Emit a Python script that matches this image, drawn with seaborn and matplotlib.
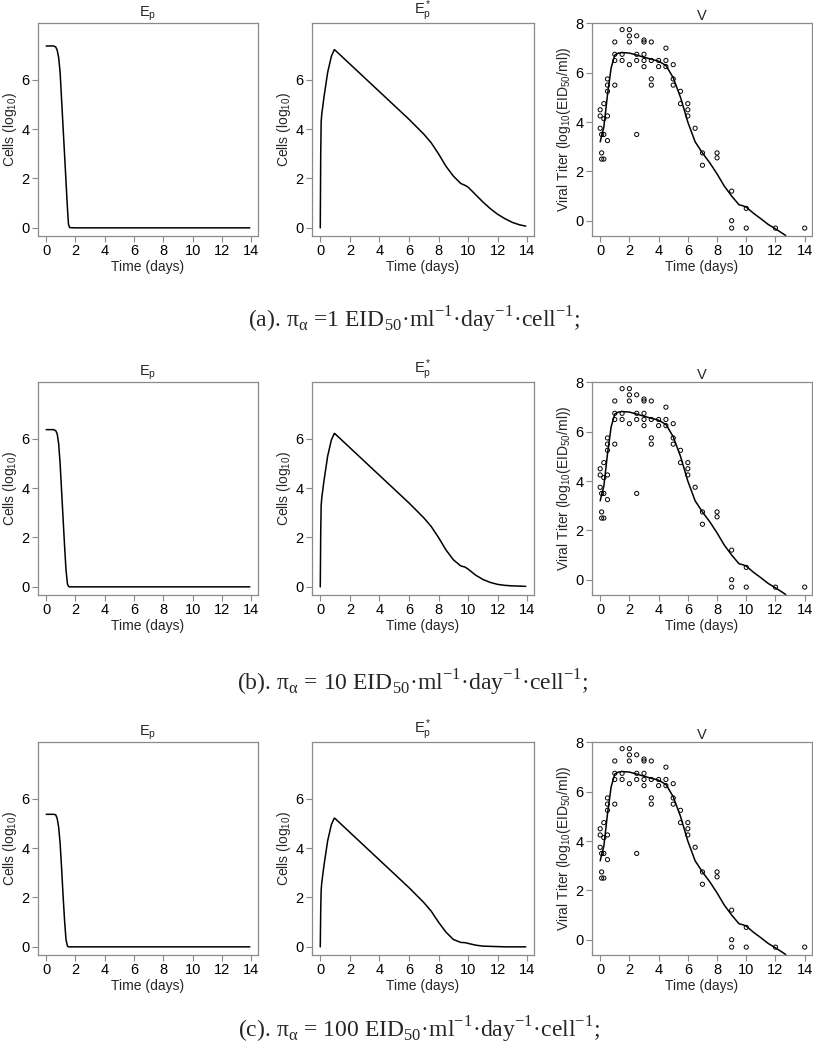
import numpy as np
import pandas as pd
import matplotlib
matplotlib.use('Agg')
import matplotlib.pyplot as plt
import seaborn as sns

# %%
# Model curves (log10 units)
t_ep = [0, 0.5, 0.65, 0.75, 0.85, 0.95, 1.05, 1.15, 1.25, 1.35, 1.45, 1.52, 1.6, 2.0, 13.9]
ep_a = [7.37, 7.37, 7.33, 7.2, 6.9, 6.3, 5.2, 4.1, 3.0, 1.9, 0.8, 0.15, 0.01, 0, 0]
ep_b = [6.37, 6.37, 6.33, 6.2, 5.8, 5.0, 3.9, 2.8, 1.7, 0.7, 0.12, 0.02, 0.0, 0, 0]
ep_c = [5.37, 5.37, 5.35, 5.2, 4.85, 4.2, 3.2, 2.1, 1.1, 0.3, 0.03, 0.0, 0.0, 0, 0]

t_eps = [0, 0.03, 0.06, 0.1, 0.25, 0.5, 0.75, 0.95, 1, 2, 3, 4, 5, 6, 7, 7.5, 8, 8.5, 9,
         9.5, 9.8, 10, 10.5, 11, 11.5, 12, 12.5, 13, 13.5, 13.9]
eps_a = [0, 3.0, 4.3, 4.6, 5.3, 6.3, 6.95, 7.22, 7.2, 6.64, 6.08, 5.52, 4.96, 4.4, 3.8, 3.45, 3.0,
         2.5, 2.1, 1.8, 1.72, 1.65, 1.35, 1.05, 0.78, 0.55, 0.37, 0.22, 0.12, 0.07]
eps_b = [0, 2.2, 3.3, 3.6, 4.3, 5.3, 5.95, 6.22, 6.2, 5.64, 5.08, 4.52, 3.96, 3.4, 2.8, 2.45, 2.0,
         1.5, 1.1, 0.85, 0.8, 0.72, 0.48, 0.3, 0.18, 0.1, 0.06, 0.04, 0.03, 0.02]
eps_c = [0, 1.5, 2.3, 2.6, 3.3, 4.3, 4.95, 5.22, 5.2, 4.64, 4.08, 3.52, 2.96, 2.4, 1.8, 1.45, 1.0,
         0.6, 0.3, 0.18, 0.17, 0.14, 0.07, 0.03, 0.02, 0.01, 0.0, 0.0, 0.0, 0.0]

t_v = [0, 0.25, 0.5, 0.75, 1.0, 1.25, 1.5, 2, 2.5, 3, 3.5, 4, 4.5, 5, 5.5, 5.75, 6, 6.5, 7,
       7.5, 8, 8.5, 9, 9.5, 9.8, 10, 10.5, 11, 11.5, 12, 12.5, 12.7]
v_fit = [3.2, 3.8, 5.1, 6.2, 6.72, 6.8, 6.82, 6.8, 6.72, 6.63, 6.55, 6.47, 6.3, 5.8, 5.0, 4.5,
         4.0, 3.2, 2.75, 2.35, 1.9, 1.4, 1.0, 0.65, 0.6, 0.55, 0.3, 0.08, -0.15, -0.33, -0.52, -0.6]

# observed viral titers (same in every row)
obs_t = [0, 0, 0, 0.1, 0.1, 0.1, 0.25, 0.25, 0.25, 0.25, 0.5, 0.5, 0.5, 0.5, 0.5,
         1, 1, 1, 1, 1.5, 1.5, 1.5, 2, 2, 2, 2, 2.5, 2.5, 2.5, 2.5,
         3, 3, 3, 3, 3, 3.5, 3.5, 3.5, 3.5, 4, 4, 4.5, 4.5, 4.5, 5, 5, 5,
         5.5, 5.5, 6, 6, 6, 6.5, 7, 7, 8, 8, 9, 9, 9, 10, 10, 12, 14]
obs_v = [4.5, 4.25, 3.75, 3.5, 2.75, 2.5, 2.5, 3.5, 4.14, 4.75, 5.75, 5.5, 5.25, 4.25, 3.25,
         7.25, 6.75, 6.5, 5.5, 7.75, 6.75, 6.5, 7.75, 7.5, 7.25, 6.33, 7.5, 6.75, 6.5, 3.5,
         7.33, 7.25, 6.75, 6.5, 6.25, 7.25, 6.5, 5.75, 5.5, 6.5, 6.25, 7.0, 6.5, 6.25, 6.33, 5.75, 5.5,
         5.25, 4.75, 4.75, 4.5, 4.25, 3.75, 2.75, 2.25, 2.75, 2.55, 1.2, 0.0, -0.3, 0.5, -0.3, -0.3, -0.3]

captions = [
    r"(a). π$_\mathregular{α}$ =1 EID$_\mathregular{50}$·ml$^\mathregular{-1}$·day$^\mathregular{-1}$·cell$^\mathregular{-1}$;",
    r"(b). π$_\mathregular{α}$ = 10 EID$_\mathregular{50}$·ml$^\mathregular{-1}$·day$^\mathregular{-1}$·cell$^\mathregular{-1}$;",
    r"(c). π$_\mathregular{α}$ = 100 EID$_\mathregular{50}$·ml$^\mathregular{-1}$·day$^\mathregular{-1}$·cell$^\mathregular{-1}$;",
]
ep_rows = [ep_a, ep_b, ep_c]
eps_rows = [eps_a, eps_b, eps_c]

# %%
sns.set_style('ticks')
plt.rcParams['font.family'] = ['Liberation Sans', 'DejaVu Sans']
plt.rcParams['mathtext.fontset'] = 'custom'
plt.rcParams['mathtext.rm'] = 'Liberation Sans'
plt.rcParams['axes.edgecolor'] = '#8a8a8a'
plt.rcParams['xtick.color'] = '#8a8a8a'
plt.rcParams['ytick.color'] = '#8a8a8a'
plt.rcParams['xtick.labelcolor'] = 'black'
plt.rcParams['ytick.labelcolor'] = 'black'

fig = plt.figure(figsize=(8.13, 10.5), dpi=100)
W, H = 813, 1050
col_x = [(38, 220), (312, 222), (592, 220)]
row_top = [23, 382, 742]
cap_y = [320, 683, 1030]
cap_x = [414, 413, 419]


def style(ax, ylim, yticks, ylabel, title):
    ax.set_xlim(-0.56, 14.46)
    ax.set_ylim(*ylim)
    ax.set_xticks(range(0, 15, 2))
    ax.set_yticks(yticks)
    ax.set_xlabel('Time (days)', fontsize=10, labelpad=1)
    ax.set_ylabel(ylabel, fontsize=10, labelpad=2)
    ax.set_title(title, fontsize=10.5, pad=2)
    ax.tick_params(labelsize=10.5, length=4, width=0.8, pad=2)
    for s in ax.spines.values():
        s.set_visible(True)
        s.set_linewidth(0.9)


for r in range(3):
    axes = []
    for c in range(3):
        x0, w = col_x[c]
        axes.append(fig.add_axes([x0 / W, 1 - (row_top[r] + 213) / H, w / W, 213 / H]))
    a1, a2, a3 = axes

    sns.lineplot(x=t_ep, y=ep_rows[r], ax=a1, color='black', lw=1.1, estimator=None)
    style(a1, (-0.33, 8.3), [0, 2, 4, 6], r'Cells (log$_\mathregular{10}$)', r'$\mathregular{E_p}$')

    sns.lineplot(x=t_eps, y=eps_rows[r], ax=a2, color='black', lw=1.1, estimator=None)
    style(a2, (-0.33, 8.3), [0, 2, 4, 6], r'Cells (log$_\mathregular{10}$)', r'$\mathregular{E_p^*}$')

    sns.lineplot(x=t_v, y=v_fit, ax=a3, color='black', lw=1.1, estimator=None)
    sns.scatterplot(x=obs_t, y=obs_v, ax=a3, s=9, facecolor='none', edgecolor='black', linewidth=0.7)
    style(a3, (-0.62, 8.02), [0, 2, 4, 6, 8],
          r'Viral Titer (log$_\mathregular{10}$(EID$_\mathregular{50}$/ml))', 'V')
    a3.set_xlim(-0.56, 14.5)

    fig.text(cap_x[r] / W, 1 - cap_y[r] / H, captions[r], ha='center', va='center',
             fontsize=17, family=['Liberation Serif', 'DejaVu Serif'])

fig.savefig('out.png', dpi=100)
